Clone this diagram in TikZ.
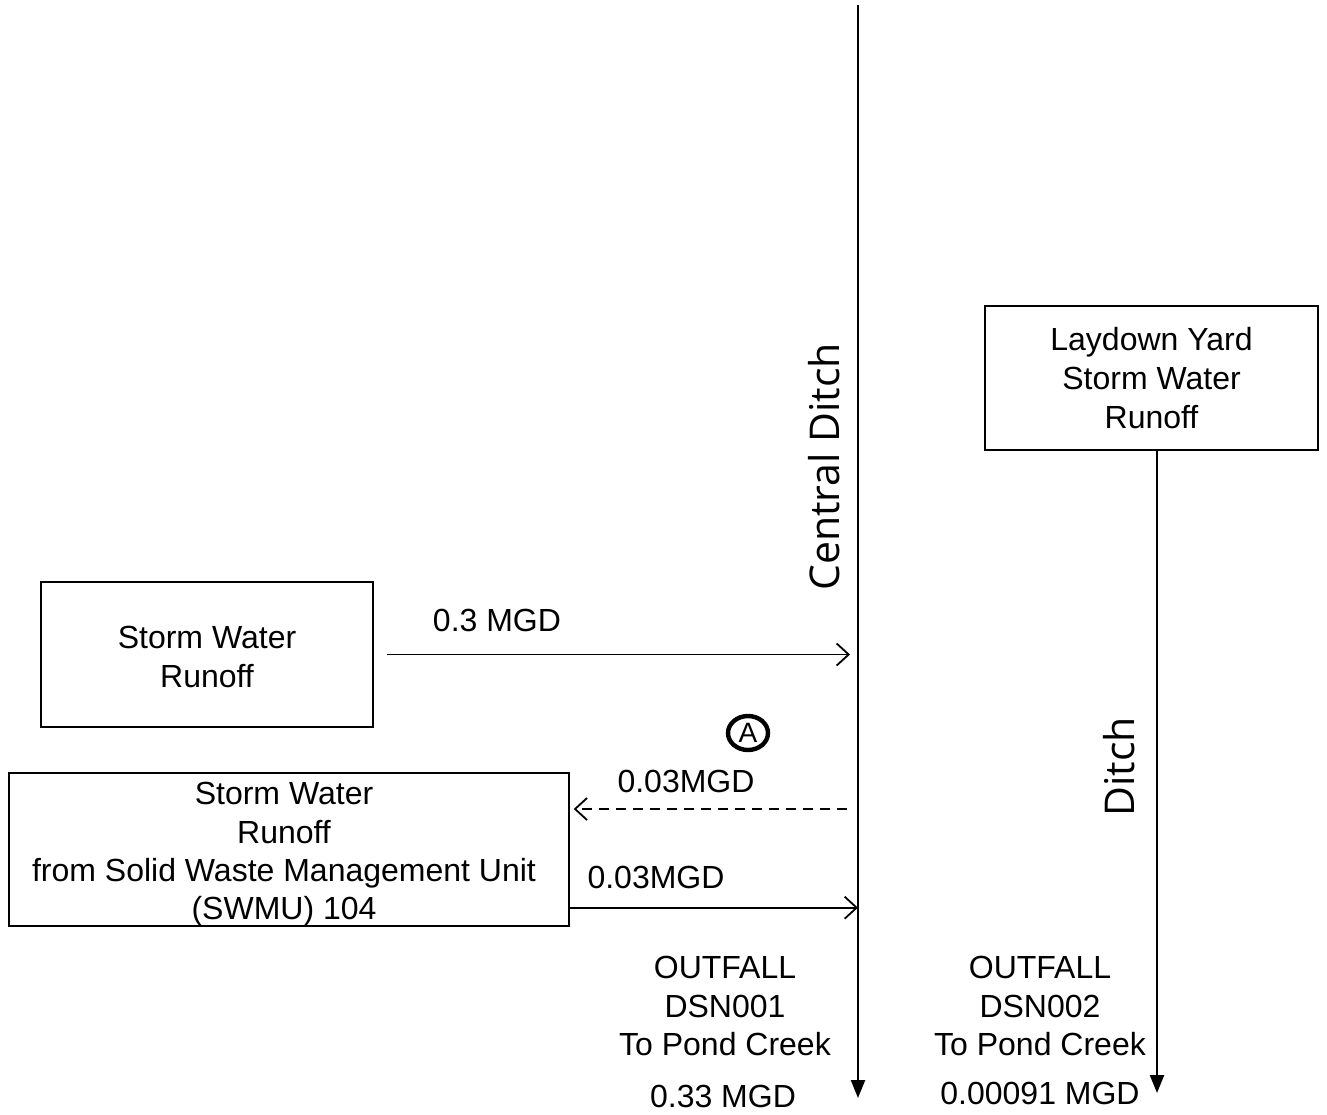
\documentclass[tikz,border=0pt]{standalone}
\usepackage{fontspec}
\setmainfont{Liberation Sans}
\newfontfamily\ditchfont{Open Sans}
\usetikzlibrary{arrows.meta,shapes.geometric}
\begin{document}
\begin{tikzpicture}[x=0.5pt,y=-0.5pt,
  every node/.style={font=\fontsize{16}{19.3}\selectfont},
  box/.style={draw, line width=0.7pt, inner sep=0pt, align=center},
  flow/.style={line width=0.9pt, -{Straight Barb[length=6pt,width=11pt]}},
  dashflow/.style={flow, dash pattern=on 5pt off 3.5pt},
  ditchline/.style={line width=1.2pt, -{Triangle[length=9pt,width=7pt]}},
  ditchlbl/.style={font=\ditchfont\fontsize{20.5}{24}\selectfont, rotate=90, inner sep=0pt},
  marker/.style={ellipse, draw, line width=2.2pt, minimum width=20pt, minimum height=17pt, inner sep=0pt, font=\fontsize{14}{14}\selectfont}]
\useasboundingbox (0,0) rectangle (1327,1114);

% boxes
\node[box, minimum width=166pt, minimum height=72.5pt] (sw1) at (207,654.5) {};
\node[align=center] (sw1t) at (207,657) {Storm Water\\Runoff};
\node[box, minimum width=166.5pt, minimum height=72pt] (lay) at (1151.5,378) {Laydown Yard\\Storm Water\\Runoff};
\node[box, minimum width=280pt, minimum height=76.5pt] (swmu) at (289,849.5) {};
\node[align=center, font=\fontsize{16}{19.15}\selectfont] (swmut) at (284,854.5) {Storm Water\\Runoff\\from Solid Waste Management Unit\\(SWMU) 104};

% ditches
\coordinate (cTop) at (858,5);
\coordinate (cEnd) at (858,1098);
\draw[ditchline] (cTop) -- (cEnd);
\coordinate (rEnd) at (1157,1093);
\draw[ditchline] (lay.south -| rEnd) -- (rEnd);

\node[ditchlbl] (cdl) at (824,467) {Central Ditch};
\node[ditchlbl] (dl) at (1119,767) {Ditch};

% flows
\draw[flow] ([xshift=6.5pt]sw1.east) -- ([xshift=-4pt]sw1.east -| cTop);
\node (l03) at (497,620) {0.3 MGD};

\coordinate (dS) at (847,809);
\draw[dashflow] (dS) -- ([xshift=2pt]dS -| swmu.east);
\node (ld) at (686,781) {0.03MGD};
\node[marker] (A) at (748,733) {A};

\coordinate (sS) at ([yshift=9.5pt]swmu.south east);
\draw[flow] (sS) -- (sS -| cTop);
\node (ls) at (656,877) {0.03MGD};

% outfalls
\node[align=center] (o1) at (725,1006) {OUTFALL\\DSN001\\To Pond Creek};
\node (q1) at (723,1096) {0.33 MGD};
\node[align=center] (o2) at (1040,1006) {OUTFALL\\DSN002\\To Pond Creek};
\node (q2) at (1040,1093) {0.00091 MGD};
\end{tikzpicture}
\end{document}
